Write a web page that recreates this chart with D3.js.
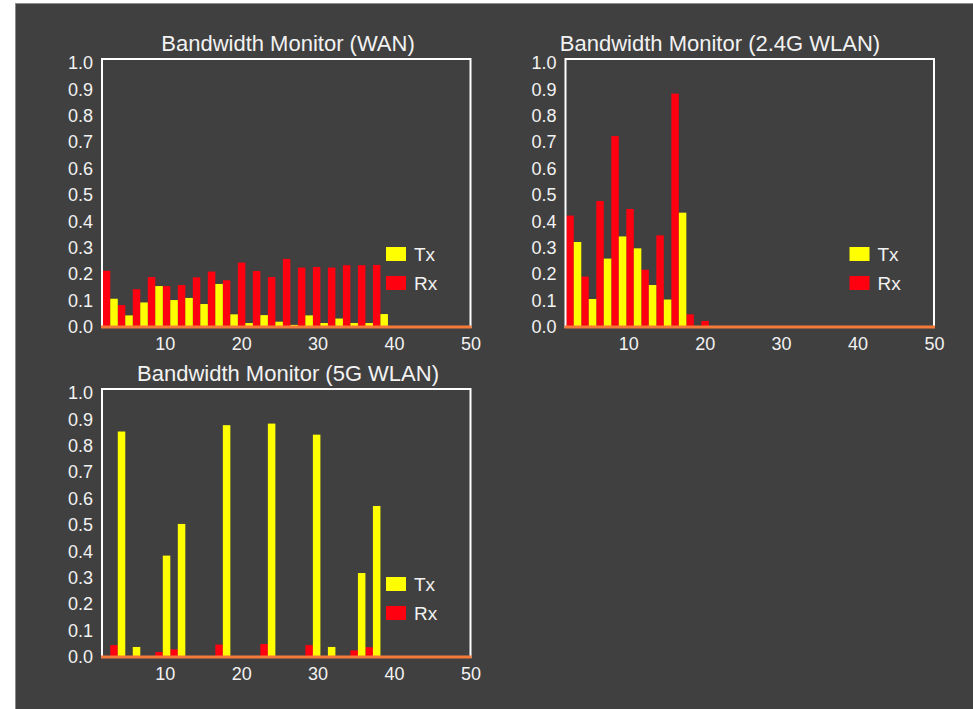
<!DOCTYPE html>
<html>
<head>
<meta charset="utf-8">
<script src="https://cdn.jsdelivr.net/npm/d3@7"></script>
<style>
  body { margin: 0; background: #fff; }
  text { font-family: "Liberation Sans", Arial, sans-serif; fill: #f2f2f2; }
</style>
</head>
<body>
<div id="monitor"></div>
<script>

// sample slots (1..38) and values, [slot, value]
var wanRx = [[1,0.213],[3,0.083],[5,0.143],[7,0.189],[9,0.155],[11,0.159],[13,0.188],[15,0.210],[17,0.177],[19,0.244],
             [21,0.212],[23,0.189],[25,0.258],[27,0.225],[29,0.227],[31,0.225],[33,0.234],[35,0.234],[37,0.235]];
var wanTx = [[2,0.107],[4,0.044],[6,0.093],[8,0.155],[10,0.102],[12,0.110],[14,0.087],[16,0.163],[18,0.048],[20,0.015],
             [22,0.045],[24,0.020],[26,0.008],[28,0.044],[30,0.015],[32,0.032],[34,0.015],[36,0.015],[38,0.049]];

var wlan24Rx = [[1,0.422],[3,0.191],[5,0.477],[7,0.723],[9,0.447],[11,0.217],[13,0.347],[15,0.884],[17,0.048],[19,0.023]];
var wlan24Tx = [[2,0.322],[4,0.106],[6,0.259],[8,0.343],[10,0.298],[12,0.159],[14,0.104],[16,0.433]];

var wlan5Rx = [[2,0.045],[8,0.019],[10,0.029],[16,0.047],[22,0.049],[28,0.045],[34,0.025],[36,0.037]];
var wlan5Tx = [[3,0.854],[5,0.038],[9,0.384],[11,0.504],[17,0.878],[23,0.884],[29,0.842],[31,0.038],[35,0.318],[37,0.572]];

var titles = ["Bandwidth Monitor (WAN)", "Bandwidth Monitor (2.4G WLAN)", "Bandwidth Monitor (5G WLAN)"];
var seriesNames = ["Tx", "Rx"];
var xTicks = [10, 20, 30, 40, 50];
var yTicks = [0, 0.1, 0.2, 0.3, 0.4, 0.5, 0.6, 0.7, 0.8, 0.9, 1.0];
var sampleSlots = d3.range(1, 39);

var colors = { Tx: "#ffff00", Rx: "#ff0010" };

var svgWidth = 973, svgHeight = 709;
var width = 368.5, height = 268;

var svg = d3.select("#monitor")
  .append("svg")
  .attr("width", svgWidth)
  .attr("height", svgHeight)
  .style("display", "block");

// dark panel
svg.append("rect")
  .attr("x", 15.5).attr("y", 3.5)
  .attr("width", svgWidth).attr("height", svgHeight)
  .attr("fill", "#404040")
  .attr("stroke", "#8c8c8c");

var charts = [
  { title: titles[0], tx: wanTx, rx: wanRx, left: 102, top: 59, titleX: 288 },
  { title: titles[1], tx: wlan24Tx, rx: wlan24Rx, left: 565.5, top: 59, titleX: 720 },
  { title: titles[2], tx: wlan5Tx, rx: wlan5Rx, left: 102, top: 389, titleX: 288 }
];

charts.forEach(function(c) {
  var g = svg.append("g").attr("transform", `translate(${c.left}, ${c.top})`);

  var xScale = d3.scaleLinear().domain([1.8, 50]).range([0, width]);
  var yScale = d3.scaleLinear().domain([0, 1.015]).range([height, 0]);
  // sample buffer slots sit a bit tighter than the axis units
  var slotScale = d3.scaleBand().domain(sampleSlots).range([xScale(1.9), xScale(39.2)]);

  // title
  svg.append("text")
    .attr("x", c.titleX)
    .attr("y", c.top - 8.5)
    .attr("text-anchor", "middle")
    .style("font-size", "22px")
    .text(c.title);

  // axes
  var yAxis = d3.axisLeft(yScale).tickValues(yTicks).tickFormat(d3.format(".1f")).tickSize(0).tickPadding(9);
  var xAxis = d3.axisBottom(xScale).tickValues(xTicks).tickSize(0).tickPadding(10);

  var ya = g.append("g").call(yAxis);
  ya.select(".domain").remove();
  ya.selectAll("text").attr("fill", "#f2f2f2").style("font-size", "18px").style("font-family", null);

  var xa = g.append("g").attr("transform", `translate(0, ${height})`).call(xAxis);
  xa.select(".domain").remove();
  xa.selectAll("text").attr("fill", "#f2f2f2").style("font-size", "18px").style("font-family", null);

  // bars
  var series = [["Rx", c.rx], ["Tx", c.tx]];
  series.forEach(function(s) {
    g.selectAll("rect.b" + s[0])
      .data(s[1])
      .enter()
      .append("rect")
      .attr("class", "b" + s[0])
      .attr("x", d => slotScale(d[0]))
      .attr("width", slotScale.bandwidth())
      .attr("y", d => yScale(d[1]))
      .attr("height", d => yScale(0) - yScale(d[1]))
      .attr("fill", colors[s[0]]);
  });

  // frame
  g.append("rect")
    .attr("x", 0).attr("y", 0)
    .attr("width", width).attr("height", height)
    .attr("fill", "none")
    .attr("stroke", "#ffffff")
    .attr("stroke-width", 2);

  g.append("line")
    .attr("x1", -1).attr("x2", width + 1)
    .attr("y1", yScale(0)).attr("y2", yScale(0))
    .attr("stroke", "#f47a3a")
    .attr("stroke-width", 3);

  // legend
  var legend = g.append("g").attr("transform", "translate(284, 188)");
  seriesNames.forEach(function(name, i) {
    legend.append("rect")
      .attr("x", 0).attr("y", i * 29)
      .attr("width", 20).attr("height", 14)
      .attr("fill", colors[name]);
    legend.append("text")
      .attr("x", 28).attr("y", i * 29 + 14)
      .style("font-size", "19px")
      .text(name);
  });
});

</script>
</body>
</html>
